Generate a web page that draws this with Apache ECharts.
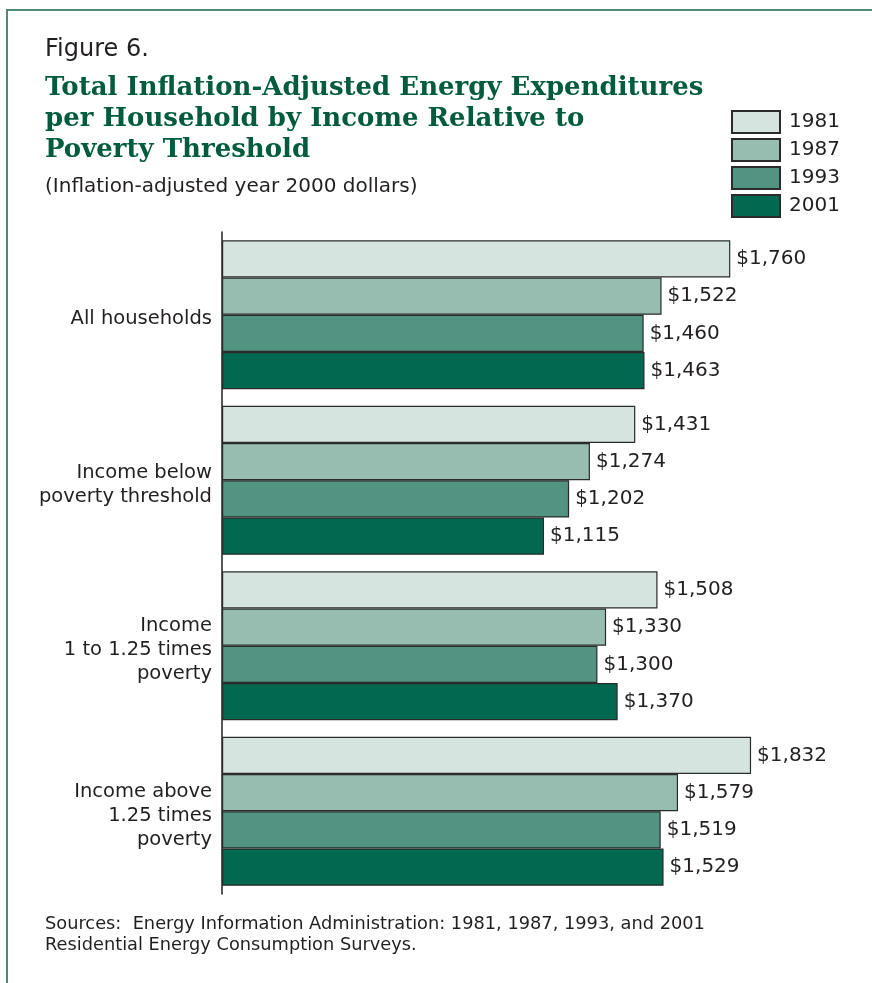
<!DOCTYPE html>
<html>
<head>
<meta charset="utf-8">
<script src="https://cdn.jsdelivr.net/npm/echarts@6/dist/echarts.min.js"></script>
<style>
  html, body { margin: 0; padding: 0; background: #fff; }
  #chart { width: 872px; height: 983px; }
</style>
</head>
<body>
<div id="chart"></div>
<script>
// data
const categories = [
  'All households',
  'Income below\npoverty threshold',
  'Income\n1 to 1.25 times\npoverty',
  'Income above\n1.25 times\npoverty'
];
const years = ['1981', '1987', '1993', '2001'];
const values1981 = [1760, 1431, 1508, 1832];
const values1987 = [1522, 1274, 1330, 1579];
const values1993 = [1460, 1202, 1300, 1519];
const values2001 = [1463, 1115, 1370, 1529];
const seriesValues = [values1981, values1987, values1993, values2001];
const colors = ['#d6e4e0', '#97bdb1', '#509481', '#00694f'];

const textFont = 'DejaVu Sans';
const darkText = '#231f20';

let chart = echarts.init(document.getElementById('chart'));

let option = {
  animation: false,
  backgroundColor: '#fff',
  title: [{
    text: 'Figure 6.',
    left: 40,
    top: 33,
    textStyle: { fontFamily: textFont, fontSize: 24, fontWeight: 'normal', color: darkText }
  }, {
    text: 'Total Inflation-Adjusted Energy Expenditures\nper Household by Income Relative to\nPoverty Threshold',
    left: 40,
    top: 68,
    textStyle: {
      fontFamily: 'DejaVu Serif',
      fontSize: 26,
      fontWeight: 'bold',
      lineHeight: 31,
      color: '#005c3d'
    }
  }, {
    text: '(Inflation-adjusted year 2000 dollars)',
    left: 40,
    top: 172,
    textStyle: { fontFamily: textFont, fontSize: 20, fontWeight: 'normal', color: darkText }
  }, {
    text: 'Sources:  Energy Information Administration: 1981, 1987, 1993, and 2001\nResidential Energy Consumption Surveys.',
    left: 40,
    top: 909,
    textStyle: { fontFamily: textFont, fontSize: 17.8, fontWeight: 'normal', lineHeight: 21, color: darkText }
  }],
  legend: {
    data: years,
    orient: 'vertical',
    left: 731,
    top: 110,
    itemWidth: 48,
    itemHeight: 22,
    itemGap: 4,
    padding: 0,
    icon: 'rect',
    textStyle: { fontFamily: textFont, fontSize: 20, color: darkText, padding: [0, 0, 0, 4] }
  },
  grid: {
    left: 222,
    top: 232,
    width: 577.6,
    height: 662,
    containLabel: false
  },
  xAxis: {
    type: 'value',
    min: 0,
    max: 2000,
    show: false
  },
  yAxis: {
    type: 'category',
    data: categories,
    inverse: true,
    axisLine: { show: true, lineStyle: { color: '#231f20', width: 1.5 } },
    axisTick: { show: false },
    axisLabel: {
      margin: 10,
      fontFamily: textFont,
      fontSize: 19.5,
      lineHeight: 24,
      color: darkText,
      align: 'right',
      // small spacer line on top nudges the labels a bit lower, like the original
      formatter: v => '{s| }\n' + v,
      rich: { s: { fontSize: 4, lineHeight: 9, height: 9 } }
    }
  },
  series: years.map((y, i) => ({
    name: y,
    type: 'bar',
    data: seriesValues[i],
    barGap: '0%',
    barCategoryGap: '10%',
    itemStyle: { color: colors[i], borderColor: '#2b2b2b', borderWidth: 1.2 },
    label: {
      show: true,
      position: 'right',
      distance: 6,
      fontFamily: textFont,
      fontSize: 20,
      color: darkText,
      formatter: p => '$' + p.value.toLocaleString('en-US')
    }
  })),
  graphic: [{
    type: 'polyline',
    shape: { points: [[7, 983], [7, 10], [872, 10]] },
    style: { stroke: '#4e8a74', lineWidth: 2, fill: null }
  }]
};

chart.setOption(option);
</script>
</body>
</html>
